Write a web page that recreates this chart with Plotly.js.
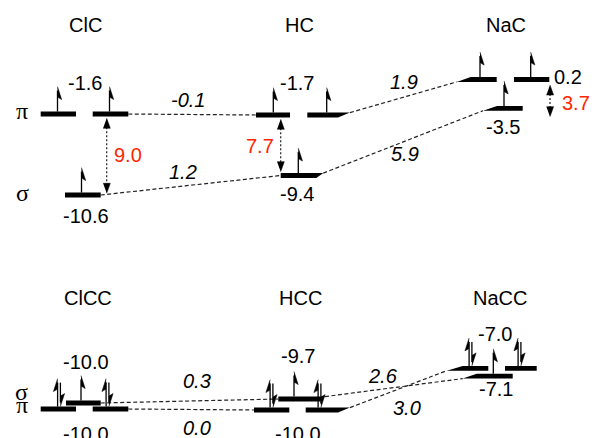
<!DOCTYPE html>
<html><head><meta charset="utf-8">
<script src="https://cdn.plot.ly/plotly-3.0.1.min.js"></script>
<style>html,body{margin:0;padding:0;background:#fff;}#chart{width:592px;height:438px;}</style>
</head><body><div id="chart"></div>
<script>
// ===================== DATA =====================
const topMolecules = ['ClC', 'HC', 'NaC'];
const topPiEnergy = [-1.6, -1.7, 0.2];
const topSigmaEnergy = [-10.6, -9.4, -3.5];
const bottomMolecules = ['ClCC', 'HCC', 'NaCC'];
const bottomSigmaEnergy = [-10.0, -9.7, -7.1];
const bottomPiEnergy = [-10.0, -10.0, -7.0];
const orbitalSymbols = { pi: 'π', sigma: 'σ' };
// electrons on each bar: 1 = single spin, 2 = spin pair
const topOccupancy = { pi: 1, sigma: 1 };
const bottomOccupancy = { pi: 2, sigma: 1 };

// ============ SCHEMATIC LAYOUT (pixel space of the diagram) ============
// bars: [x0, x1, taperLeft, taperRight]
const topGeom = [
  { titleX: 85,
    pi:    { y: 114,   bars: [[40.7, 76, 0, 0], [92.7, 128.3, 0, 0]], eX: [57.5, 109.5], label: [85, 83] },
    sigma: { y: 195,   bars: [[65, 100.7, 0, 0]], eX: [81.5], label: [86, 216] },
    gap:   { x: 106.7, y0: 118.3, y1: 193.3, label: [127.5, 155] } },
  { titleX: 299,
    pi:    { y: 115,   bars: [[256, 290, 0, 0], [307.3, 350, 0, 12]], eX: [273.3, 326.7], label: [297, 83] },
    sigma: { y: 175.5, bars: [[280.7, 323.3, 0, 7]], eX: [298.3], label: [297, 194] },
    gap:   { x: 280.7, y0: 119.3, y1: 171.7, label: [260, 145.5] } },
  { titleX: 506,
    pi:    { y: 79.5,  bars: [[456.7, 496.7, 14, 0], [514, 549.3, 0, 0]], eX: [480, 530.7], label: [568, 76.5] },
    sigma: { y: 108.3, bars: [[483, 522.7, 14, 0]], eX: [504], label: [503.3, 127] },
    gap:   { x: 550, y0: 85, y1: 116.7, label: [576, 103] } }
];
const topTitleY = 25;
const topLinkLabels = { pi: [[187.5, 100], [403.5, 81.5]], sigma: [[182.5, 171.5], [404.5, 154]] };
const topSymbolPos = { pi: [22, 111], sigma: [22, 193] };

const bottomGeom = [
  { titleX: 88,
    sigma: { y: 403,   bars: [[66, 100.7, 0, 0]], eX: [81], label: [86.3, 361.5] },
    pi:    { y: 409,   bars: [[40.7, 76, 0, 0], [92.7, 128.3, 0, 0]], eX: [59, 107.5], label: [86.3, 433.5] } },
  { titleX: 300,
    sigma: { y: 399,   bars: [[278.3, 325, 0, 5]], eX: [294], label: [298, 356] },
    pi:    { y: 410,   bars: [[254, 289.3, 0, 0], [305.7, 350, 0, 12]], eX: [271.5, 319.5], label: [298.3, 433.5] } },
  { titleX: 499.5,
    sigma: { y: 376.2, bars: [[462.7, 512.7, 14, 0]], eX: [493.3], label: [495.5, 389] },
    pi:    { y: 368.3, bars: [[446.7, 488.3, 16, 0], [505, 536.7, 0, 0]], eX: [470.5, 519.5], label: [494.7, 334] } }
];
const bottomTitleY = 298;
const bottomLinkLabels = { sigma: [[197, 380.5], [383, 376]], pi: [[197, 428], [407, 407.5]] };
const bottomSymbolPos = { sigma: [21.5, 392], pi: [21.5, 405] };

const H = 2.4;          // half bar thickness
const RED = '#ff2600';
const SANS = 'Liberation Sans, Arial, Helvetica, sans-serif';
const SERIF = 'Liberation Serif, Times New Roman, serif';

// ===================== BUILD =====================
const barX = [], barY = [], headX = [], headY = [], stemX = [], stemY = [];
const linkX = [], linkY = [], gapX = [], gapY = [];
const annotations = [];
const fmt = v => v.toFixed(1);

function poly(ax, ay, pts) { pts.forEach(p => { ax.push(p[0]); ay.push(p[1]); }); ax.push(null); ay.push(null); }
function seg(ax, ay, a, b) { ax.push(a[0], b[0], null); ay.push(a[1], b[1], null); }
function text(t, pos, opts) {
  opts = opts || {};
  annotations.push({ x: pos[0], y: pos[1], xref: 'x', yref: 'y', text: t, showarrow: false,
    xanchor: 'center', yanchor: 'middle',
    font: { family: opts.family || SANS, size: opts.size || 20, color: opts.color || '#000', style: opts.style || 'normal' } });
}
function drawBar(b, y) {
  const [x0, x1, tL, tR] = b;
  poly(barX, barY, [[x0 + tL, y - H], [x1, y - H], [x1 - tR, y + H], [x0, y + H]]);
}
function rightEnd(level) { const b = level.bars[level.bars.length - 1]; return [b[1], b[3] ? level.y - H : level.y]; }
function leftEnd(level) { const b = level.bars[0]; return [b[0], b[2] ? level.y + H : level.y]; }
function electrons(level, occ) {
  const yb = level.y - H;
  level.eX.forEach(xc => {
    if (occ === 1) {
      const t = yb - 25;
      seg(stemX, stemY, [xc, yb], [xc, t + 4]);
      poly(headX, headY, [[xc, t], [xc + 4.2, t + 13], [xc, t + 10.5]]);
    } else {
      const xu = xc - 1.4, xd = xc + 1.4, t = yb - 28;
      seg(stemX, stemY, [xu, yb], [xu, t + 4]);
      poly(headX, headY, [[xu, t], [xu - 4.2, t + 13], [xu, t + 10.5]]);
      seg(stemX, stemY, [xd, yb - 24], [xd, yb - 4]);
      poly(headX, headY, [[xd, yb], [xd + 4.2, yb - 13], [xd, yb - 10.5]]);
    }
  });
}
function gapArrow(g) {
  poly(headX, headY, [[g.x, g.y0], [g.x + 3.6, g.y0 + 10], [g.x - 3.6, g.y0 + 10]]);
  poly(headX, headY, [[g.x, g.y1], [g.x + 3.6, g.y1 - 10], [g.x - 3.6, g.y1 - 10]]);
  seg(gapX, gapY, [g.x, g.y0 + 9], [g.x, g.y1 - 9]);
}

function panel(mols, geom, energies, occupancy, titleY, linkLabels, symbolPos, showGap) {
  mols.forEach((m, i) => {
    const g = geom[i];
    text(m, [g.titleX, titleY]);
    ['pi', 'sigma'].forEach(orb => {
      const lv = g[orb];
      lv.bars.forEach(b => drawBar(b, lv.y));
      electrons(lv, occupancy[orb]);
      text(fmt(energies[orb][i]), lv.label);
      if (i < mols.length - 1) {
        const nx = geom[i + 1][orb];
        seg(linkX, linkY, rightEnd(lv), leftEnd(nx));
        text(fmt(energies[orb][i + 1] - energies[orb][i]), linkLabels[orb][i], { style: 'italic' });
      }
    });
    if (showGap) {
      gapArrow(g.gap);
      text(fmt(energies.pi[i] - energies.sigma[i]), g.gap.label, { color: RED });
    }
  });
  ['pi', 'sigma'].forEach(orb => text(orbitalSymbols[orb], symbolPos[orb], { family: SERIF, size: 24 }));
}

panel(topMolecules, topGeom, { pi: topPiEnergy, sigma: topSigmaEnergy }, topOccupancy,
      topTitleY, topLinkLabels, topSymbolPos, true);
panel(bottomMolecules, bottomGeom, { pi: bottomPiEnergy, sigma: bottomSigmaEnergy }, bottomOccupancy,
      bottomTitleY, bottomLinkLabels, bottomSymbolPos, false);

const traces = [
  { x: linkX, y: linkY, mode: 'lines', line: { color: '#222', width: 1.2, dash: '4px,2.5px' }, hoverinfo: 'skip' },
  { x: gapX, y: gapY, mode: 'lines', line: { color: '#222', width: 1.2, dash: '2px,2px' }, hoverinfo: 'skip' },
  { x: stemX, y: stemY, mode: 'lines', line: { color: '#000', width: 1.3 }, hoverinfo: 'skip' },
  { x: barX, y: barY, mode: 'lines', fill: 'toself', fillcolor: '#000', line: { width: 0, color: 'rgba(0,0,0,0)' }, hoverinfo: 'skip' },
  { x: headX, y: headY, mode: 'lines', fill: 'toself', fillcolor: '#000', line: { width: 0.5, color: '#000' }, hoverinfo: 'skip' }
];

const layout = {
  width: 592, height: 438,
  margin: { l: 0, r: 0, t: 0, b: 0, pad: 0 },
  paper_bgcolor: '#fff', plot_bgcolor: '#fff',
  showlegend: false,
  xaxis: { range: [0, 592], visible: false, fixedrange: true },
  yaxis: { range: [438, 0], visible: false, fixedrange: true },
  annotations: annotations
};
Plotly.newPlot('chart', traces, layout, { displayModeBar: false, staticPlot: true });
</script></body></html>
